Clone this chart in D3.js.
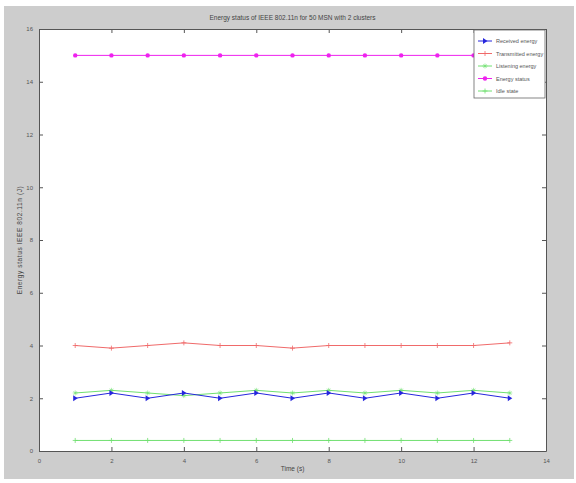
<!DOCTYPE html>
<html>
<head>
<meta charset="utf-8">
<script src="https://cdn.jsdelivr.net/npm/d3@7"></script>
<style>
  body { margin: 0; background: #fff; }
  svg { display: block; font-family: "Liberation Sans", Arial, sans-serif; }
</style>
</head>
<body>
<div id="chart"></div>
<script>
// time points and series values
var timeSteps = [1, 2, 3, 4, 5, 6, 7, 8, 9, 10, 11, 12, 13];
var receivedEnergy = [2.0, 2.2, 2.0, 2.2, 2.0, 2.2, 2.0, 2.2, 2.0, 2.2, 2.0, 2.2, 2.0];
var transmittedEnergy = [4.0, 3.9, 4.0, 4.1, 4.0, 4.0, 3.9, 4.0, 4.0, 4.0, 4.0, 4.0, 4.1];
var listeningEnergy = [2.2, 2.3, 2.2, 2.1, 2.2, 2.3, 2.2, 2.3, 2.2, 2.3, 2.2, 2.3, 2.2];
var energyStatus = [15, 15, 15, 15, 15, 15, 15, 15, 15, 15, 15, 15, 15];
var idleState = [0.4, 0.4, 0.4, 0.4, 0.4, 0.4, 0.4, 0.4, 0.4, 0.4, 0.4, 0.4, 0.4];
var xTicks = [0, 2, 4, 6, 8, 10, 12, 14];
var yTicks = [0, 2, 4, 6, 8, 10, 12, 14, 16];

var width = 576, height = 483;
var margin = { left: 39, right: 30, top: 29, bottom: 32 };
var plotW = width - margin.left - margin.right;
var plotH = height - margin.top - margin.bottom;

var svg = d3.select("#chart").append("svg")
    .attr("width", width)
    .attr("height", height);

// grey figure background
svg.append("rect")
    .attr("x", 4).attr("y", 6)
    .attr("width", width - 6).attr("height", height - 10)
    .attr("fill", "#cdcdcd");

var g = svg.append("g")
    .attr("transform", "translate(" + margin.left + "," + margin.top + ")");

var x = d3.scaleLinear().domain([0, 14]).range([0, plotW]);
var y = d3.scaleLinear().domain([0, 16]).range([plotH, 0]);

g.append("rect")
    .attr("width", plotW).attr("height", plotH)
    .attr("fill", "#fff");

// axes with inward ticks on all four sides
function styleAxis(sel) {
    sel.select(".domain").attr("stroke", "#555");
    sel.selectAll(".tick line").attr("stroke", "#555");
    sel.selectAll(".tick text").attr("fill", "#555").style("font-size", "6px");
}

g.append("g")
    .attr("transform", "translate(0," + plotH + ")")
    .call(d3.axisBottom(x).tickValues(xTicks).tickSizeInner(-4).tickSizeOuter(0).tickPadding(8))
    .call(styleAxis);
g.append("g")
    .call(d3.axisTop(x).tickValues(xTicks).tickSizeInner(-4).tickSizeOuter(0).tickFormat(""))
    .call(styleAxis);
g.append("g")
    .call(d3.axisLeft(y).tickValues(yTicks).tickSizeInner(-4).tickSizeOuter(0).tickPadding(6))
    .call(styleAxis);
g.append("g")
    .attr("transform", "translate(" + plotW + ",0)")
    .call(d3.axisRight(y).tickValues(yTicks).tickSizeInner(-4).tickSizeOuter(0).tickFormat(""))
    .call(styleAxis);

// series definitions
var series = [
    { name: "Received energy", values: receivedEnergy, color: "#2626dd", marker: "tri" },
    { name: "Transmitted energy", values: transmittedEnergy, color: "#f06a6a", marker: "plus" },
    { name: "Listening energy", values: listeningEnergy, color: "#70e070", marker: "star" },
    { name: "Energy status", values: energyStatus, color: "#ee22ee", marker: "dot" },
    { name: "Idle state", values: idleState, color: "#70e070", marker: "plus" }
];

var line = d3.line()
    .x(function (d) { return x(d[0]); })
    .y(function (d) { return y(d[1]); });

function drawMarker(sel, s) {
    if (s.marker === "tri") {
        sel.append("path")
            .attr("d", "M-2,-3L2.5,0L-2,3Z")
            .attr("fill", s.color);
    } else if (s.marker === "dot") {
        sel.append("circle").attr("r", 2.2).attr("fill", s.color);
    } else if (s.marker === "plus") {
        sel.append("path").attr("d", "M-2.5,0H2.5M0,-2.5V2.5")
            .attr("stroke", s.color).attr("stroke-width", 0.8);
    } else {
        sel.append("path").attr("d", "M-2.5,0H2.5M0,-2.5V2.5M-1.7,-1.7L1.7,1.7M-1.7,1.7L1.7,-1.7")
            .attr("stroke", s.color).attr("stroke-width", 0.6);
    }
}

// draw listening first so received sits on top of it
var drawOrder = [2, 4, 1, 3, 0];
drawOrder.forEach(function (i) {
    var s = series[i];
    var pts = timeSteps.map(function (t, k) { return [t, s.values[k]]; });
    g.append("path")
        .datum(pts)
        .attr("d", line)
        .attr("fill", "none")
        .attr("stroke", s.color)
        .attr("stroke-width", 1);
    g.selectAll(".m" + i)
        .data(pts)
        .enter().append("g")
        .attr("transform", function (d) { return "translate(" + x(d[0]) + "," + y(d[1]) + ")"; })
        .each(function () { drawMarker(d3.select(this), s); });
});

// legend
var legend = g.append("g").attr("transform", "translate(" + (plotW - 72) + ",1)");
legend.append("rect")
    .attr("width", 71).attr("height", 68)
    .attr("fill", "#fff").attr("stroke", "#666").attr("stroke-width", 0.8);
series.forEach(function (s, i) {
    var row = legend.append("g").attr("transform", "translate(0," + (11 + i * 12.5) + ")");
    row.append("line")
        .attr("x1", 4).attr("x2", 18)
        .attr("stroke", s.color).attr("stroke-width", 1);
    drawMarker(row.append("g").attr("transform", "translate(11,0)"), s);
    row.append("text")
        .attr("x", 22).attr("y", 2)
        .attr("fill", "#555")
        .style("font-size", "5.5px")
        .text(s.name);
});

// title and axis labels
svg.append("text")
    .attr("x", margin.left + plotW / 2).attr("y", 20)
    .attr("text-anchor", "middle")
    .attr("fill", "#444")
    .style("font-size", "6.5px")
    .text("Energy status of IEEE 802.11n for 50 MSN with 2 clusters");

svg.append("text")
    .attr("x", margin.left + plotW / 2).attr("y", 471)
    .attr("text-anchor", "middle")
    .attr("fill", "#444")
    .style("font-size", "6.5px")
    .text("Time (s)");

svg.append("text")
    .attr("transform", "translate(22," + (margin.top + plotH / 2) + ") rotate(-90)")
    .attr("text-anchor", "middle")
    .attr("fill", "#444")
    .style("font-size", "6.5px")
    .style("letter-spacing", "0.6px")
    .text("Energy status IEEE 802.11n (J)");
</script>
</body>
</html>
